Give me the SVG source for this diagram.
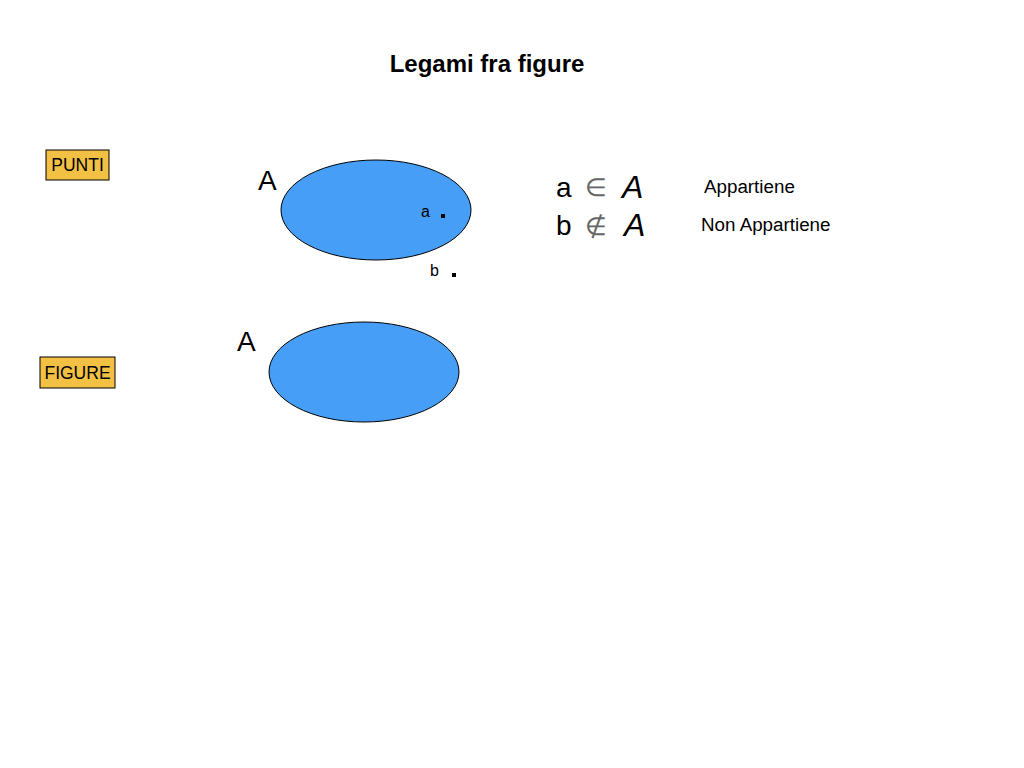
<svg xmlns="http://www.w3.org/2000/svg" width="1024" height="768" viewBox="0 0 1024 768">
<style>
text{font-family:"Liberation Sans",Arial,sans-serif;fill:#000}
.box{fill:#f2c043;stroke:#000;stroke-width:1}
.ell{fill:#469ef6;stroke:#000;stroke-width:1}
.lbl{font-size:17.5px;text-anchor:middle}
.big{font-size:28px}
.sym{font-size:25px;fill:#666}
.it{font-size:32px;font-style:italic}
.desc{font-size:18.8px}
</style>
<rect width="1024" height="768" fill="#fff"/>
<text x="487" y="72" font-size="24" font-weight="bold" text-anchor="middle">Legami fra figure</text>
<g id="punti"><rect class="box" x="46" y="150" width="63" height="30"/><text class="lbl" x="77.5" y="171">PUNTI</text></g>
<g id="figure"><rect class="box" x="40" y="357" width="75" height="31"/><text class="lbl" x="77.5" y="379">FIGURE</text></g>
<g id="setA1"><ellipse class="ell" cx="376" cy="210" rx="95" ry="50"/><text class="big" x="258" y="190">A</text></g>
<g id="pointA"><text x="421" y="217" font-size="16">a</text><rect x="441" y="214" width="4" height="4" fill="#000"/></g>
<g id="pointB"><text x="430" y="276" font-size="16">b</text><rect x="452" y="273" width="4" height="4" fill="#000"/></g>
<g id="setA2"><ellipse class="ell" cx="364" cy="372" rx="95" ry="50"/><text class="big" x="237" y="351">A</text></g>
<g id="rel1"><text class="big" x="556" y="197">a</text><text class="sym" x="585" y="196">∈</text><text class="it" x="622" y="198">A</text><text class="desc" x="704" y="193">Appartiene</text></g>
<g id="rel2"><text class="big" x="556" y="235">b</text><text class="sym" x="585" y="235">∉</text><text class="it" x="624" y="236">A</text><text class="desc" x="701" y="231">Non Appartiene</text></g>
</svg>
